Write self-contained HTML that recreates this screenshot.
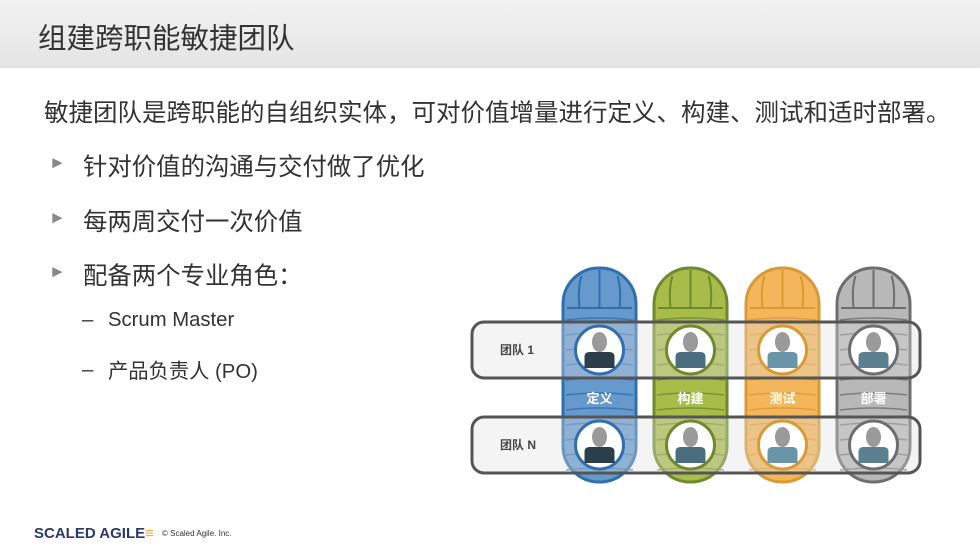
<!DOCTYPE html>
<html><head><meta charset="utf-8"><style>
body{margin:0;width:980px;height:548px;overflow:hidden;background:#fff;font-family:"Liberation Sans","Noto Sans CJK SC",sans-serif;position:relative}
.hdr{position:absolute;left:0;top:0;width:980px;height:68px;background:linear-gradient(#f2f2f2,#e4e4e4)}
.t{position:absolute;white-space:nowrap;color:#333}
.a{font-size:17px;color:#888}
</style></head><body>
<div class="hdr"></div>
<div class="t" style="left:38px;top:16px;font-size:28.5px;color:#333">组建跨职能敏捷团队</div>
<div class="t" style="left:44px;top:94px;font-size:24.5px">敏捷团队是跨职能的自组织实体，可对价值增量进行定义、构建、测试和适时部署。</div>
<div class="t a" style="left:49px;top:153px">►</div>
<div class="t" style="left:83px;top:148px;font-size:24.4px">针对价值的沟通与交付做了优化</div>
<div class="t a" style="left:49px;top:208px">►</div>
<div class="t" style="left:83px;top:203px;font-size:24.4px">每两周交付一次价值</div>
<div class="t a" style="left:49px;top:262px">►</div>
<div class="t" style="left:83px;top:257px;font-size:24.4px">配备两个专业角色：</div>
<div class="t" style="left:82px;top:309px;font-size:20.3px">–</div>
<div class="t" style="left:108px;top:309px;font-size:20.3px">Scrum Master</div>
<div class="t" style="left:82px;top:359px;font-size:20.3px">–</div>
<div class="t" style="left:108px;top:354px;font-size:20.3px">产品负责人 (PO)</div>
<div class="t" style="left:34px;top:525px;font-size:15px;font-weight:bold;color:#2a3a6a">SCALED AGILE<span style="color:#f0b040">≡</span></div>
<div class="t" style="left:162px;top:529px;font-size:8px;color:#333">© Scaled Agile. Inc.</div>
<svg style="position:absolute;left:0;top:0" width="980" height="548">
<g id="cols"></g>
<rect x="472" y="322" width="448" height="56" rx="12" fill="#e0e0e0" fill-opacity="0.35" stroke="#555" stroke-width="3"/>
<rect x="472" y="417" width="448" height="56" rx="12" fill="#e0e0e0" fill-opacity="0.35" stroke="#555" stroke-width="3"/>
<g id="ov"></g>
<text x="500" y="354" font-size="12" font-weight="bold" fill="#444" font-family="Liberation Sans,Noto Sans CJK SC,sans-serif">团队 1</text>
<text x="500" y="449" font-size="12" font-weight="bold" fill="#444" font-family="Liberation Sans,Noto Sans CJK SC,sans-serif">团队 N</text>
</svg>
<script>
var cols=[[563,"#6699cc","#2f6fae","定义","#2c3e4a"],[654,"#a8bc4a","#6f8a2e","构建","#4a6e80"],[746,"#f3b65a","#d99a35","测试","#6a95a8"],[837,"#b8b8b8","#6e6e6e","部署","#5c8090"]];
var s="",o="";
cols.forEach(function(c,i){var x=c[0],w=73,cx=x+w/2;
s+='<g transform="translate('+x+',268)"><rect x="0" y="0" width="'+w+'" height="214" rx="36" fill="'+c[1]+'" stroke="'+c[2]+'" stroke-width="3"/>';
s+='<path d="M'+(w/2)+' 2V40M'+(w/2-18)+' 8Q'+(w/2-22)+' 20 '+(w/2-20)+' 40M'+(w/2+18)+' 8Q'+(w/2+22)+' 20 '+(w/2+20)+' 40M4 40H'+(w-4)+'" stroke="'+c[2]+'" stroke-width="2" fill="none"/>';
for(var y=52;y<212;y+=15)s+='<path d="M3 '+y+'Q'+(w/2)+' '+(y-4)+' '+(w-3)+' '+y+'" stroke="'+c[2]+'" stroke-width="1.5" fill="none" opacity="0.8"/>';
s+='</g>';
[350,445].forEach(function(cy){
o+='<circle cx="'+cx+'" cy="'+cy+'" r="24" fill="#fff" stroke="'+c[2]+'" stroke-width="3"/>';
o+='<ellipse cx="'+cx+'" cy="'+(cy-8)+'" rx="7.5" ry="10" fill="#9a9a9a"/>';
o+='<path d="M'+(cx-15)+' '+(cy+18)+'V'+(cy+7)+'Q'+(cx-15)+' '+(cy+2)+' '+(cx-10)+' '+(cy+2)+'H'+(cx+10)+'Q'+(cx+15)+' '+(cy+2)+' '+(cx+15)+' '+(cy+7)+'V'+(cy+18)+'Z" fill="'+c[4]+'"/>';});
o+='<text x="'+cx+'" y="403" text-anchor="middle" font-size="13" font-weight="bold" fill="#fff" font-family="Liberation Sans,Noto Sans CJK SC,sans-serif">'+c[3]+'</text>';
});
document.getElementById("cols").innerHTML=s;document.getElementById("ov").innerHTML=o;
</script>
</body></html>
